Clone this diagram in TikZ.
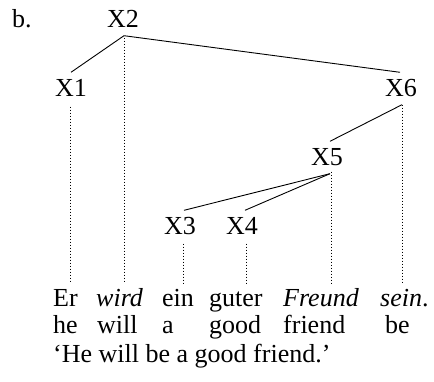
\documentclass[tikz,border=0pt]{standalone}
\usepackage{fontspec}
\setmainfont{Liberation Serif}
\begin{document}
\begin{tikzpicture}[x=1pt,y=-1pt,
  cat/.style={inner xsep=0pt, inner ysep=7.5pt, text height=17pt, text depth=0pt, font=\fontsize{26}{30}\selectfont},
  word/.style={anchor=base west, inner sep=0pt, font=\fontsize{26}{30}\selectfont},
  branch/.style={line width=0.9pt},
  proj/.style={line width=0.8pt, dash pattern=on 0.9pt off 2.1pt}]
\useasboundingbox (0,0) rectangle (434,382);
\node[word] (lab) at (12,28) {b.};
% tree nodes (anchor at baseline)
\node[cat, anchor=base] (X2) at (123,28) {X2};
\node[cat, anchor=base] (X1) at (71,97) {X1};
\node[cat, anchor=base] (X6) at (401,97) {X6};
\node[cat, anchor=base] (X5) at (327,166) {X5};
\node[cat, anchor=base] (X3) at (180,235) {X3};
\node[cat, anchor=base] (X4) at (242,235) {X4};
% branches
\draw[branch] ([xshift=1pt]X2.south) -- (X1.north);
\draw[branch] ([xshift=1pt]X2.south) -- ([xshift=-1pt]X6.north);
\draw[branch] ([xshift=1pt]X6.south) -- ([xshift=3pt]X5.north);
\draw[branch] ([xshift=3pt]X5.south) -- ([xshift=4pt]X3.north);
\draw[branch] ([xshift=3pt]X5.south) -- ([xshift=3pt]X4.north);
% ends of projection lines
\coordinate (e1) at (70,283);
\coordinate (e2) at (124,283);
\coordinate (e3) at (183,283);
\coordinate (e4) at (246,283);
\coordinate (e5) at (331,283);
\coordinate (e6) at (402,283);
\draw[proj] ([xshift=-1pt,yshift=-2pt]X1.south) -- (e1);
\draw[proj] ([xshift=1pt,yshift=-2pt]X2.south) -- (e2);
\draw[proj] ([xshift=3pt,yshift=-1pt]X3.south) -- (e3);
\draw[proj] ([xshift=4pt,yshift=-1pt]X4.south) -- (e4);
\draw[proj] ([xshift=4pt,yshift=2pt]X5.south) -- (e5);
\draw[proj] ([xshift=1pt]X6.south) -- (e6);
% gloss line 1
\node[word] (w1) at (53,306) {Er};
\node[word] (w2) at (96,306) {\itshape wird};
\node[word] (w3) at (162,306) {ein};
\node[word] (w4) at (209,306) {guter};
\node[word] (w5) at (283,306) {\itshape Freund};
\node[word] (w6) at (380,306) {\itshape sein\upshape .};
% gloss line 2
\node[word] (g1) at (53,334) {he};
\node[word] (g2) at (97,334) {will};
\node[word] (g3) at (162,334) {a};
\node[word] (g4) at (209,334) {good};
\node[word] (g5) at (283,334) {friend};
\node[word] (g6) at (385,334) {be};
% translation
\node[word] (tr) at (53,362) {‘He will be a good friend.’};
\end{tikzpicture}
\end{document}
